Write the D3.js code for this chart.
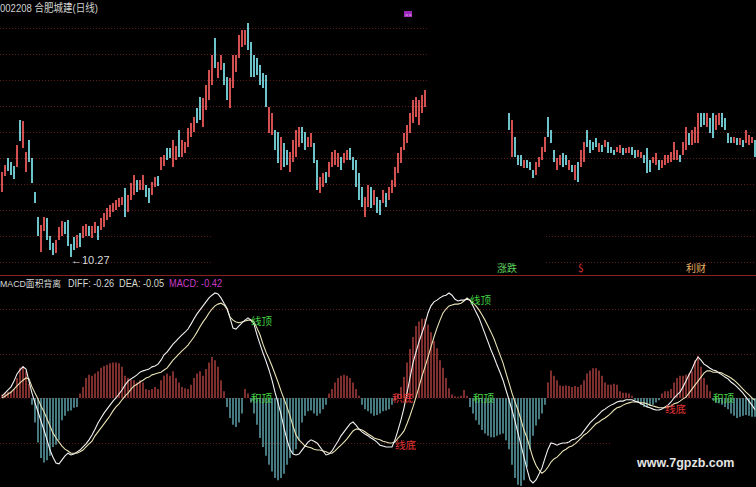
<!DOCTYPE html>
<html><head><meta charset="utf-8">
<script src="https://cdn.jsdelivr.net/npm/d3@7"></script>
<style>html,body{margin:0;padding:0;background:#000;overflow:hidden}svg{display:block}</style>
</head><body><svg id="c" width="756" height="487"></svg>
<script>
const stockTitle = "002208 合肥城建(日线)";
const indicatorName = "MACD面积背离";
const openP = [
12.87,13.51,14.23,14.07,13.91,13.87,15.75,14.63,13.67,14.95,
14.23,12.87,11.87,10.47,11.31,11.83,11.11,10.83,10.43,10.95,
11.11,11.67,11.75,10.79,11.07,10.63,11.23,11.03,11.11,11.51,
11.03,11.23,11.51,11.35,11.47,11.75,11.87,12.07,12.15,12.27,
12.35,13.03,12.07,12.55,12.75,13.35,12.95,12.95,13.15,13.03,
12.75,13.07,13.51,13.75,13.91,14.63,14.63,13.87,14.15,15.35,
14.27,14.43,14.67,15.07,15.27,16.23,16.67,15.47,16.15,16.55,
17.15,19.03,17.43,17.75,18.03,17.47,16.23,17.03,17.67,18.23,
18.67,18.75,19.63,18.87,18.35,18.23,17.95,17.63,17.55,15.23,
15.15,15.35,15.27,13.75,14.83,14.55,13.67,14.07,14.27,14.67,
15.47,15.27,14.67,14.67,14.83,14.15,12.83,13.07,13.67,13.47,
13.87,13.95,13.87,14.27,14.03,14.15,14.63,14.27,14.15,13.63,
13.07,11.87,12.27,13.07,12.35,12.67,12.55,12.43,12.83,12.55,
12.83,13.07,13.63,14.03,14.55,14.83,15.23,15.63,15.87,15.55,
16.03,16.27,16.55,16.87,17.27,18.07,17.67,18.15,18.47,19.27,
18.87,19.55,19.15,18.55,18.95,18.55,17.95,18.47,18.15,17.43,
17.95,17.67,16.95,17.43,17.27,16.55,17.15,17.03,16.23,16.35,
14.27,15.07,14.35,14.35,13.83,14.15,14.07,13.75,13.55,13.87,
14.15,14.47,15.87,15.35,14.55,13.75,13.95,14.43,14.35,13.75,
13.95,13.35,14.07,13.87,14.07,15.35,14.95,14.87,15.03,14.47,
14.75,14.67,14.87,14.67,14.55,14.47,14.43,14.63,14.43,14.43,
14.67,14.55,14.27,14.23,14.35,14.63,14.15,14.03,13.95,14.15,
13.83,13.95,14.03,14.07,14.15,14.15,14.35,14.35,14.55,15.23,
14.75,14.83,14.83,16.23,16.15,15.47,15.83,16.15,15.35,15.55,
16.07,15.83,15.23,15.07,14.83,15.03,14.75,14.95,14.83,14.75,
14.83,14.95];
const closeP = [
13.67,13.95,13.71,13.55,13.39,14.75,14.91,15.71,14.47,14.07,
13.23,12.43,11.11,11.55,11.87,10.95,10.55,10.35,10.95,11.47,
11.71,11.19,10.71,10.27,10.55,11.15,10.67,11.51,11.59,11.11,
11.51,11.67,10.95,11.83,12.03,12.23,12.35,12.43,12.55,12.63,
12.67,11.87,12.75,13.23,13.55,12.87,13.35,13.55,12.67,12.43,
13.27,13.47,13.11,14.27,14.35,14.15,14.23,14.95,14.71,14.27,
14.95,14.87,15.43,15.63,15.87,15.63,15.75,16.63,17.15,17.75,
18.35,17.83,18.07,18.35,17.15,16.55,17.43,18.35,18.35,19.15,
19.35,19.35,18.55,17.47,17.47,17.55,17.15,17.03,16.27,16.27,
16.03,14.55,14.03,15.07,13.87,13.95,14.47,14.95,15.35,15.47,
14.83,14.55,15.07,15.23,14.03,12.95,13.47,13.63,13.23,14.07,
14.47,14.55,14.43,13.75,14.43,14.55,14.15,13.75,13.07,12.55,
12.27,12.67,13.15,12.23,12.95,12.03,11.95,12.95,12.27,13.07,
13.35,13.87,14.43,14.67,15.23,15.55,16.03,16.55,16.67,16.55,
16.75,16.95,17.35,17.75,18.15,17.35,18.55,18.95,19.35,18.55,
19.67,18.63,18.23,19.35,18.07,17.67,18.75,17.55,17.27,18.23,
17.03,16.75,17.75,16.55,16.39,17.35,16.23,16.15,17.11,15.35,
15.75,14.27,13.95,13.91,14.15,13.83,13.75,13.43,14.07,14.27,
14.67,15.07,15.07,14.83,14.07,14.23,14.35,13.87,13.95,14.15,
13.67,13.95,13.27,14.55,14.87,14.67,14.43,14.55,14.67,14.83,
14.47,14.95,14.43,14.43,14.35,14.67,14.75,14.35,14.63,14.67,
14.35,14.23,14.55,14.47,14.03,13.63,13.67,14.27,14.43,13.75,
14.15,14.35,14.35,14.47,14.87,14.55,14.07,14.87,15.47,14.75,
15.35,15.47,16.23,15.47,15.55,16.23,15.23,15.03,15.95,16.07,
15.47,15.35,14.83,14.83,15.07,14.75,15.03,14.67,15.35,15.15,
15.07,14.27];
const macdHist = [
0.08,0.12,0.14,0.15,0.2,0.45,0.68,0.72,0.6,0.32,
-0.15,-0.55,-1.0,-1.35,-1.45,-1.4,-1.3,-1.1,-1.05,-0.95,
-0.5,-0.4,-0.3,-0.28,-0.22,-0.2,0.1,0.25,0.45,0.52,
0.5,0.55,0.6,0.68,0.72,0.75,0.78,0.8,0.8,0.78,
0.7,0.5,0.45,0.42,0.4,0.35,0.4,0.35,0.2,0.18,
0.2,0.25,0.2,0.4,0.5,0.55,0.5,0.6,0.45,0.35,
0.25,0.22,0.2,0.3,0.45,0.55,0.6,0.5,0.65,0.8,
0.92,0.85,0.7,0.4,0.15,-0.2,-0.45,-0.6,-0.65,-0.55,
-0.35,0.2,0.1,-0.1,-0.35,-0.6,-0.9,-1.1,-1.3,-1.5,
-1.65,-1.8,-1.85,-1.8,-1.7,-1.5,-1.35,-1.25,-1.15,-0.95,
-0.55,-0.4,-0.3,-0.28,-0.35,-0.4,-0.35,-0.25,-0.15,0.1,
0.2,0.35,0.45,0.5,0.52,0.5,0.45,0.35,0.2,0.05,
-0.15,-0.25,-0.3,-0.35,-0.4,-0.38,-0.35,-0.3,-0.28,-0.25,
-0.15,-0.05,0.1,0.25,0.47,0.8,1.1,1.37,1.62,1.72,
1.78,1.78,1.65,1.48,1.28,1.12,0.85,0.68,0.45,0.22,
0.08,0.04,0.03,0.05,0.18,0.05,-0.2,-0.35,-0.5,-0.6,
-0.72,-0.8,-0.85,-0.88,-0.88,-0.85,-0.82,-0.8,-0.95,-1.15,
-1.5,-1.8,-1.95,-1.98,-1.85,-1.55,-1.15,-0.85,-0.62,-0.48,
-0.35,-0.15,0.35,0.62,0.5,0.4,0.28,0.27,0.28,0.27,
0.25,0.27,0.25,0.3,0.4,0.55,0.62,0.67,0.67,0.62,
0.5,0.35,0.3,0.3,0.32,0.3,0.15,0.12,0.12,0.1,
0.05,-0.05,-0.1,-0.15,-0.2,-0.2,-0.18,-0.15,-0.1,-0.05,
0.1,0.15,0.15,0.2,0.35,0.45,0.5,0.5,0.52,0.55,
0.6,0.85,0.95,0.7,0.45,0.3,0.15,-0.05,-0.1,-0.12,
-0.15,-0.2,-0.25,-0.35,-0.4,-0.45,-0.42,-0.4,-0.38,-0.4,
-0.42,-0.42];
const diffLine = [
0.04,0.11,0.18,0.25,0.38,0.54,0.63,0.70,0.65,0.38,
0.11,-0.11,-0.31,-0.52,-0.72,-0.94,-1.17,-1.33,-1.46,-1.48,
-1.39,-1.30,-1.24,-1.28,-1.26,-1.21,-1.17,-1.10,-1.03,-0.94,
-0.83,-0.70,-0.56,-0.45,-0.34,-0.25,-0.16,-0.07,0.00,0.09,
0.18,0.29,0.38,0.43,0.47,0.52,0.58,0.61,0.63,0.65,
0.70,0.72,0.76,0.85,0.97,1.03,1.12,1.21,1.28,1.35,
1.42,1.48,1.55,1.66,1.78,1.89,1.98,2.07,2.16,2.25,
2.31,2.36,2.34,2.25,2.13,2.02,1.80,1.57,1.55,1.62,
1.69,1.75,1.80,1.75,1.66,1.42,1.21,1.01,0.83,0.63,
0.40,0.13,-0.11,-0.36,-0.67,-0.94,-1.15,-1.26,-1.28,-1.26,
-1.17,-1.08,-0.99,-0.94,-0.97,-1.01,-1.10,-1.19,-1.28,-1.26,
-1.19,-1.08,-0.97,-0.85,-0.76,-0.67,-0.58,-0.54,-0.61,-0.70,
-0.76,-0.81,-0.85,-0.90,-0.94,-0.99,-1.06,-1.08,-1.10,-1.10,
-1.10,-0.94,-0.72,-0.49,-0.22,0.11,0.45,0.79,1.03,1.26,
1.46,1.66,1.91,2.07,2.16,2.20,2.25,2.29,2.31,2.36,
2.31,2.22,2.18,2.20,2.20,2.22,2.20,2.07,1.93,1.80,
1.62,1.44,1.26,1.08,0.92,0.74,0.58,0.40,0.18,-0.04,
-0.27,-0.52,-0.79,-1.06,-1.33,-1.60,-1.84,-1.91,-1.84,-1.71,
-1.57,-1.35,-1.15,-1.01,-1.03,-1.06,-1.03,-1.01,-1.01,-0.99,
-0.94,-0.92,-0.88,-0.83,-0.74,-0.65,-0.56,-0.49,-0.43,-0.36,
-0.29,-0.25,-0.20,-0.16,-0.13,-0.09,-0.07,-0.07,-0.04,-0.04,
-0.04,-0.07,-0.09,-0.13,-0.16,-0.20,-0.22,-0.25,-0.27,-0.27,
-0.25,-0.20,-0.16,-0.09,0.00,0.07,0.13,0.25,0.38,0.52,
0.65,0.81,0.92,0.85,0.76,0.72,0.67,0.63,0.61,0.56,
0.52,0.47,0.43,0.36,0.31,0.25,0.18,0.11,0.02,-0.07,
-0.16,-0.26];
const deaLine = [
0.00,0.04,0.09,0.13,0.20,0.27,0.34,0.40,0.45,0.43,
0.25,0.11,-0.02,-0.18,-0.31,-0.47,-0.63,-0.79,-0.90,-0.99,
-1.08,-1.15,-1.19,-1.24,-1.24,-1.24,-1.21,-1.17,-1.10,-1.03,
-0.97,-0.85,-0.76,-0.67,-0.58,-0.49,-0.40,-0.29,-0.20,-0.13,
-0.04,0.04,0.11,0.20,0.27,0.31,0.36,0.40,0.45,0.47,
0.52,0.54,0.56,0.58,0.63,0.67,0.76,0.85,0.92,0.99,
1.06,1.12,1.19,1.28,1.37,1.48,1.60,1.71,1.80,1.91,
2.00,2.07,2.11,2.13,2.09,2.00,1.82,1.75,1.71,1.69,
1.71,1.73,1.75,1.75,1.71,1.57,1.42,1.21,1.03,0.88,
0.72,0.54,0.36,0.16,-0.02,-0.20,-0.40,-0.63,-0.83,-0.94,
-1.01,-1.08,-1.10,-1.12,-1.15,-1.17,-1.17,-1.19,-1.21,-1.24,
-1.24,-1.19,-1.12,-1.06,-0.99,-0.92,-0.83,-0.74,-0.70,-0.70,
-0.72,-0.76,-0.81,-0.85,-0.90,-0.92,-0.94,-0.97,-0.99,-1.01,
-1.01,-0.99,-0.90,-0.83,-0.74,-0.58,-0.40,-0.20,0.02,0.25,
0.49,0.70,0.92,1.15,1.37,1.57,1.75,1.91,2.00,2.07,
2.09,2.11,2.11,2.13,2.18,2.25,2.20,2.13,2.07,1.98,
1.87,1.75,1.62,1.48,1.33,1.15,0.97,0.79,0.56,0.34,
0.11,-0.09,-0.27,-0.49,-0.72,-0.90,-1.12,-1.35,-1.51,-1.62,
-1.69,-1.64,-1.55,-1.44,-1.37,-1.33,-1.26,-1.19,-1.15,-1.10,
-1.08,-1.03,-0.97,-0.90,-0.83,-0.79,-0.72,-0.65,-0.58,-0.54,
-0.49,-0.45,-0.40,-0.34,-0.27,-0.22,-0.20,-0.16,-0.13,-0.11,
-0.09,-0.09,-0.09,-0.11,-0.11,-0.13,-0.16,-0.18,-0.20,-0.22,
-0.22,-0.22,-0.20,-0.18,-0.13,-0.11,-0.07,-0.02,0.02,0.11,
0.20,0.29,0.38,0.47,0.56,0.61,0.61,0.58,0.58,0.58,
0.56,0.52,0.49,0.45,0.40,0.34,0.27,0.20,0.13,0.07,
0.00,-0.05];
const priceGrid = [19.43,18.39,17.35,16.31,15.27,14.23,13.19,12.15,11.11,10.07];
const macdGrid = [2,1,-1];
const sigIdx  = [83, 83, 130, 131, 156, 157, 221, 237];
const sigVal  = [1.73, 0, 0, -1.06, 2.2, 0, -0.25, 0];
const sigText = ["线顶","积顶","积底","线底","线顶","积顶","线底","积顶"];
const markIdx = [165, 192, 228];
const markText = ["涨跌","$","利财"];
const siteText = "www.7gpzb.com";

const N = openP.length;
const svg = d3.select("#c");
const RED = "#d2504f", CYAN = "#6cc4ca";
const FONT = "'Liberation Sans','Noto Sans CJK SC',sans-serif";
svg.append("rect").attr("width",756).attr("height",487).attr("fill","#000");

const x = d3.scaleLinear().domain([0, N-1]).range([2, 2 + 3*(N-1)]);
const yP = d3.scaleLinear().domain([10.27, 20.55]).range([257, 0]);
const yM = d3.scaleLinear().domain([-2, 2]).range([487, 309]);

// grids
svg.append("g").selectAll("line").data(priceGrid).join("line")
  .attr("x1",0).attr("x2",756).attr("y1",d=>Math.round(yP(d))+0.5).attr("y2",d=>Math.round(yP(d))+0.5)
  .attr("stroke","#5e1c1c").attr("stroke-dasharray","1,2");
svg.append("g").selectAll("line").data(macdGrid.concat([0])).join("line")
  .attr("x1",0).attr("x2",756).attr("y1",d=>Math.round(yM(d))+0.5).attr("y2",d=>Math.round(yM(d))+0.5)
  .attr("stroke",d=>d===0?"#3a1010":"#5e1c1c").attr("stroke-dasharray","1,2");
svg.append("line").attr("x1",0).attr("x2",756).attr("y1",275.5).attr("y2",275.5)
  .attr("stroke","#8a2222").attr("stroke-width",1);

// candles
const idx = d3.range(N);
svg.append("g").selectAll("rect").data(idx).join("rect")
  .attr("x", i => x(i) - 1)
  .attr("width", 2)
  .attr("y", i => yP(Math.max(openP[i], closeP[i])))
  .attr("height", i => Math.max(1, Math.abs(yP(openP[i]) - yP(closeP[i]))))
  .attr("fill", i => closeP[i] >= openP[i] ? RED : CYAN);

// low marker
const lowI = d3.minIndex(closeP);
svg.append("text").attr("x", x(lowI)).attr("y", yP(closeP[lowI]) + 7)
  .attr("fill","#d8d8d8").attr("font-size",11).attr("font-family",FONT)
  .text("←" + closeP[lowI].toFixed(2));

// MACD histogram
svg.append("g").selectAll("line").data(idx).join("line")
  .attr("x1", i => x(i)).attr("x2", i => x(i))
  .attr("y1", yM(0)).attr("y2", i => yM(macdHist[i]))
  .attr("stroke", i => macdHist[i] >= 0 ? "#c44848" : "#6cbcc4")
  .attr("stroke-width", 1.3);

// DIFF / DEA
const lineGen = arr => d3.line().x(i => x(i)).y(i => yM(arr[i]))(idx);
svg.append("path").attr("d", lineGen(deaLine)).attr("fill","none").attr("stroke","#e8e2b4").attr("stroke-width",1.1);
svg.append("path").attr("d", lineGen(diffLine)).attr("fill","none").attr("stroke","#f2f2f2").attr("stroke-width",1.1);

// signal labels
svg.append("g").selectAll("text").data(d3.range(sigIdx.length)).join("text")
  .attr("x", k => x(sigIdx[k])).attr("y", k => yM(sigVal[k]) + 4)
  .attr("fill", k => sigText[k].includes("顶") ? "#44d444" : "#e03434")
  .attr("font-size", 10.5).attr("font-family", "'Noto Sans CJK SC',sans-serif")
  .text(k => sigText[k]);

// cover boxes (as in screenshot)
svg.append("rect").attr("x",427).attr("y",0).attr("width",329).attr("height",113).attr("fill","#000");
svg.append("rect").attr("x",212).attr("y",222).attr("width",333).attr("height",43).attr("fill","#000");
svg.append("rect").attr("x",610).attr("y",438).attr("width",146).attr("height",49).attr("fill","#000");

// top-panel markers
const markColors = ["#5ccf5c","#e03434","#e8b060"];
svg.append("g").selectAll("text").data(d3.range(markIdx.length)).join("text")
  .attr("x", k => x(markIdx[k])).attr("y", 272)
  .attr("fill", k => markColors[k]).attr("font-size", 10).attr("font-family","'Noto Sans CJK SC',sans-serif")
  .text(k => markText[k]);
svg.append("rect").attr("x", x(134)).attr("y", 11).attr("width", 8).attr("height", 6).attr("fill","#9a28b8");
svg.append("text").attr("x", x(134)+1).attr("y", 16.5).attr("fill","#e0a0f0").attr("font-size",6).attr("font-family",FONT).text("××");

// titles
svg.append("text").attr("x",0).attr("y",12).attr("fill","#d0d0d0").attr("font-size",11).attr("font-family",FONT)
  .attr("textLength",98).attr("lengthAdjust","spacingAndGlyphs").text(stockTitle);
const leg = svg.append("g").attr("font-family",FONT);
const legItems = [
  {x:0,   w:61, s:9,  c:"#d8d8d8", t:indicatorName},
  {x:68,  w:46, s:11, c:"#d8d8d8", t:"DIFF: " + diffLine[N-1].toFixed(2)},
  {x:119, w:45, s:11, c:"#d8d8c8", t:"DEA: " + deaLine[N-1].toFixed(2)},
  {x:169, w:53, s:11, c:"#c83cc8", t:"MACD: " + macdHist[N-1].toFixed(2)}
];
leg.selectAll("text").data(legItems).join("text")
  .attr("x", d => d.x).attr("y", 287).attr("fill", d => d.c).attr("font-size", d => d.s)
  .attr("textLength", d => d.w).attr("lengthAdjust","spacingAndGlyphs")
  .text(d => d.t);

svg.append("text").attr("x",637).attr("y",467).attr("fill","#e4e4e4").attr("font-size",12.5).attr("font-weight","bold")
  .attr("font-family",FONT).text(siteText);
</script>
</body></html>
